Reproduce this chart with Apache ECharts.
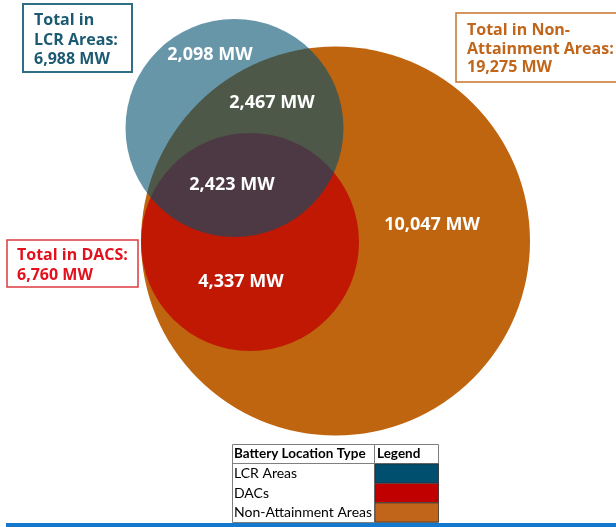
<!DOCTYPE html>
<html>
<head>
<meta charset="utf-8">
<script src="https://cdn.jsdelivr.net/npm/echarts@6/dist/echarts.min.js"></script>
<style>
html,body{margin:0;padding:0;background:#fff;}
#chart{width:616px;height:527px;}
</style>
</head>
<body>
<div id="chart"></div>
<script>
// ---- data ----
const setNames = ['LCR Areas', 'DACs', 'Non-Attainment Areas'];
const setTotals = [6988, 6760, 19275];
const totalTitles = ['Total in\nLCR Areas:', 'Total in DACS:', 'Total in Non-\nAttainment Areas:'];
const regionNames = ['LCR only', 'LCR + Non-Attainment', 'LCR + DACs + Non-Attainment', 'DACs + Non-Attainment', 'Non-Attainment only'];
const regionValues = [2098, 2467, 2423, 4337, 10047];
const legendHeader = ['Battery Location Type', 'Legend'];

// ---- layout (venn geometry in chart units) ----
const circleLayout = [
  [234.5, 128, 109],   // LCR
  [250, 242, 109],     // DACs
  [335.5, 241, 194.5]  // Non-Attainment
];
const regionLabelPos = [[210, 55], [272, 103], [232, 185], [241, 282], [432, 225]];
const fills = ['rgba(0,80,110,0.6)', 'rgba(192,0,0,0.76)', '#C0650F'];
const swatch = ['#014F6E', '#C00000', '#C0651A'];

const fmt = v => v.toLocaleString('en-US') + ' MW';

const circleData = [2, 1, 0].map(i => ({
  name: setNames[i],
  value: [circleLayout[i][0], circleLayout[i][1], circleLayout[i][2], i, setTotals[i]]
}));
const labelData = regionValues.map((v, i) => ({
  name: regionNames[i],
  value: [regionLabelPos[i][0], regionLabelPos[i][1], v]
}));

const chart = echarts.init(document.getElementById('chart'), null, {renderer: 'canvas'});

const boxFont = 'bold 16px "Open Sans"';
const graphics = [
  // LCR total box
  {type: 'rect', shape: {x: 23, y: 4, width: 109, height: 68}, style: {fill: '#fff', stroke: '#2F6E85', lineWidth: 2}},
  {type: 'text', style: {x: 34, y: 11, text: totalTitles[0] + '\n' + fmt(setTotals[0]), font: boxFont, fill: '#1C5A72', lineHeight: 19.5, align: 'left', verticalAlign: 'top'}},
  // Non-attainment box
  {type: 'rect', shape: {x: 456, y: 13, width: 172, height: 69}, style: {fill: '#fff', stroke: '#C8732A', lineWidth: 1.5}},
  {type: 'text', style: {x: 467, y: 21.5, text: totalTitles[2] + '\n' + fmt(setTotals[2]), font: boxFont, fill: '#C0651A', lineHeight: 18.5, align: 'left', verticalAlign: 'top'}},
  // DACS box
  {type: 'rect', shape: {x: 7, y: 240, width: 131, height: 47}, style: {fill: '#fff', stroke: '#DB3A3F', lineWidth: 1.5}},
  {type: 'text', style: {x: 17, y: 245, text: totalTitles[1] + '\n' + fmt(setTotals[1]), font: boxFont, fill: '#E3101E', lineHeight: 20, align: 'left', verticalAlign: 'top'}},
  // legend table
  {type: 'rect', shape: {x: 232.5, y: 444.5, width: 206, height: 78}, style: {fill: '#fff', stroke: '#7F7F7F', lineWidth: 1}},
  {type: 'line', shape: {x1: 232.5, y1: 463.5, x2: 438.5, y2: 463.5}, style: {stroke: '#7F7F7F', lineWidth: 1}},
  {type: 'line', shape: {x1: 374.5, y1: 444.5, x2: 374.5, y2: 522}, style: {stroke: '#7F7F7F', lineWidth: 1}},
  {type: 'text', style: {x: 234, y: 454, text: legendHeader[0], font: 'bold 13.5px Lato', fill: '#000', align: 'left', verticalAlign: 'middle'}},
  {type: 'text', style: {x: 377, y: 454, text: legendHeader[1], font: 'bold 13.5px Lato', fill: '#000', align: 'left', verticalAlign: 'middle'}}
];
const rowY = [464, 483.5, 503];
const rowH = [19, 19, 19];
setNames.forEach((n, i) => {
  graphics.push({type: 'rect', shape: {x: 375, y: rowY[i], width: 63.5, height: rowH[i]}, style: {fill: swatch[i], stroke: '#2a2a2a', lineWidth: 0.6}});
  graphics.push({type: 'text', style: {x: 234, y: rowY[i] + 9.5, text: n, font: '14px Lato', fill: '#000', align: 'left', verticalAlign: 'middle'}});
});
// bottom blue rule
graphics.push({type: 'rect', shape: {x: 6, y: 523, width: 612, height: 4}, style: {fill: '#1279CF'}});

chart.setOption({
  animation: false,
  grid: {left: 0, right: 0, top: 0, bottom: 0},
  xAxis: {type: 'value', min: 0, max: 616, show: false},
  yAxis: {type: 'value', min: 0, max: 527, inverse: true, show: false},
  series: [
    {
      type: 'custom',
      coordinateSystem: 'cartesian2d',
      data: circleData,
      renderItem: function (params, api) {
        const c = api.coord([api.value(0), api.value(1)]);
        const s = api.size([api.value(2), api.value(2)]);
        return {type: 'circle', shape: {cx: c[0], cy: c[1], r: s[0]}, style: {fill: fills[api.value(3)]}};
      },
      z: 1
    },
    {
      type: 'scatter',
      data: labelData,
      symbolSize: 0,
      z: 5,
      itemStyle: {opacity: 0},
      label: {
        show: true,
        position: 'inside',
        formatter: p => fmt(p.value[2]),
        color: '#ffffff',
        textBorderWidth: 0,
        opacity: 1,
        fontFamily: 'Open Sans',
        fontWeight: 'bold',
        fontSize: 18
      }
    }
  ],
  graphic: graphics
});
</script>
</body>
</html>
